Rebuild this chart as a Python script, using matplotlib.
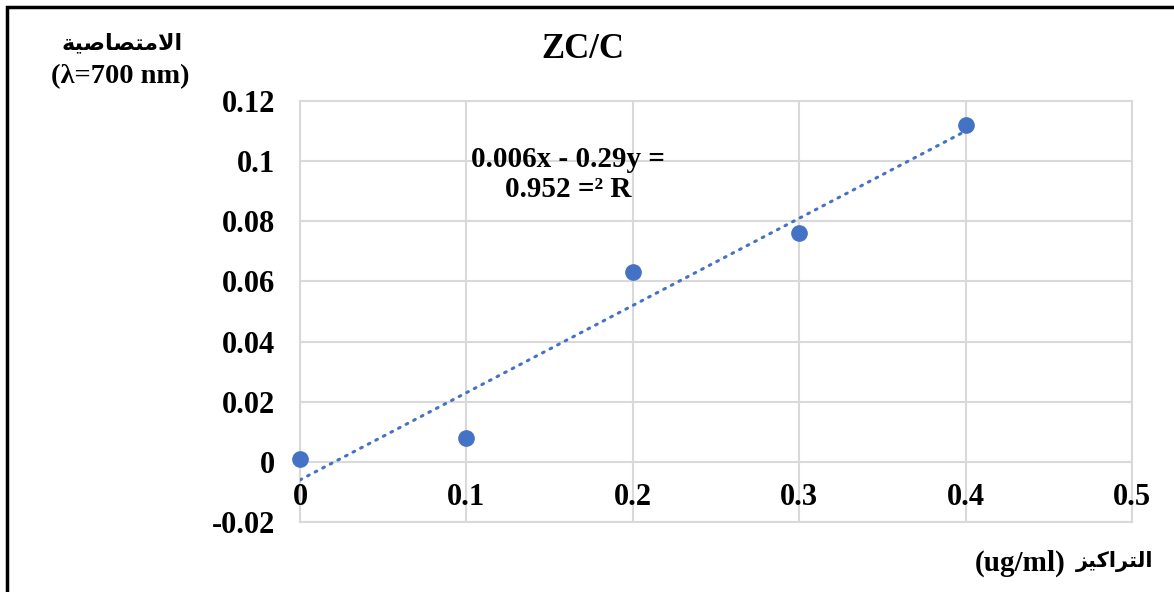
import numpy as np
import matplotlib.pyplot as plt
from matplotlib.patches import Rectangle

# concentration vs absorbance data
conc = [0, 0.1, 0.2, 0.3, 0.4]
absorb = [0.001, 0.008, 0.063, 0.076, 0.112]
xticks = [0, 0.1, 0.2, 0.3, 0.4, 0.5]
xtick_labels = ["0", "0.1", "0.2", "0.3", "0.4", "0.5"]
yticks = [-0.02, 0, 0.02, 0.04, 0.06, 0.08, 0.1, 0.12]
ytick_labels = ["-0.02", "0", "0.02", "0.04", "0.06", "0.08", "0.1", "0.12"]

title = "ZC/C"
eq_text = "0.006x - 0.29y =\n0.952 =\u00b2 R"
# arabic words in visual order with presentation forms (no shaping in matplotlib)
ylab_ar = "\ufe94\ufef4\ufebb\ufe8e\ufebc\ufe98\ufee3\ufefb\ufe8d"
xlab_ar = "\ufeb0\ufef4\ufedb\ufe8d\ufeae\ufe98\ufedf\ufe8d"

blue = "#4472C4"
grid_col = "#d9d9d9"
fam = ["Liberation Serif", "DejaVu Sans"]
plt.rcParams['font.family'] = fam
plt.rcParams['font.weight'] = 'bold'

fig = plt.figure(figsize=(11.74, 5.92), dpi=100)
ax = fig.add_axes([300/1174, 1-522/592, 832/1174, 421/592])

ax.set_xlim(0, 0.5)
ax.set_ylim(-0.02, 0.12)
ax.set_xticks(xticks)
ax.set_yticks(yticks)
ax.set_xticklabels([])
ax.set_yticklabels(ytick_labels, fontsize=22, fontweight='bold')
ax.tick_params(length=0, pad=18)
ax.grid(True, color=grid_col, linewidth=1.5)
for s in ax.spines.values():
    s.set_color(grid_col)
    s.set_linewidth(1.5)

# x tick labels sit just under the y=0 line (excel style)
for xv, lab in zip(xticks, xtick_labels):
    ax.annotate(lab, (xv, 0), xytext=(0, -36), textcoords='offset pixels',
                ha='center', va='center', fontsize=22, fontweight='bold')

# trendline
coef = np.polyfit(conc, absorb, 1)
tx = np.array([conc[0], conc[-1]])
ax.plot(tx, np.polyval(coef, tx), color=blue, linewidth=2.2,
        linestyle=(0, (0.6, 2.2)), dash_capstyle='round', zorder=3)
ax.plot(conc, absorb, 'o', color=blue, markersize=11, zorder=4, clip_on=False)

ax.text(0.161, 0.0955, eq_text, transform=ax.transData, ha='center', va='center',
        fontsize=21, fontweight='bold', linespacing=1.15, zorder=5)

fig.text(583/1174, 1-50/592, title, ha='center', va='center', fontsize=25, fontweight='bold')
fig.text(122/1174, 1-43/592, ylab_ar, ha='center', va='center', fontsize=16, fontweight='bold',
         family=["DejaVu Sans"])
fig.text(120/1174, 1-77/592, "(\u03bb=700 nm)", ha='center', va='center', fontsize=20.5,
         fontweight='bold')
fig.text(1066/1174, 1-563/592, "(ug/ml)", ha='right', va='center', fontsize=21,
         fontweight='bold')
fig.text(1153/1174, 1-562/592, xlab_ar, ha='right', va='center', fontsize=15,
         fontweight='bold', family=["DejaVu Sans"])

# chart border
fig.patches.append(Rectangle((7/1174, -0.02), 1.1, 1-7/592+0.02, transform=fig.transFigure,
                             fill=False, edgecolor='black', linewidth=2.5))

fig.savefig("out.png", dpi=100)
